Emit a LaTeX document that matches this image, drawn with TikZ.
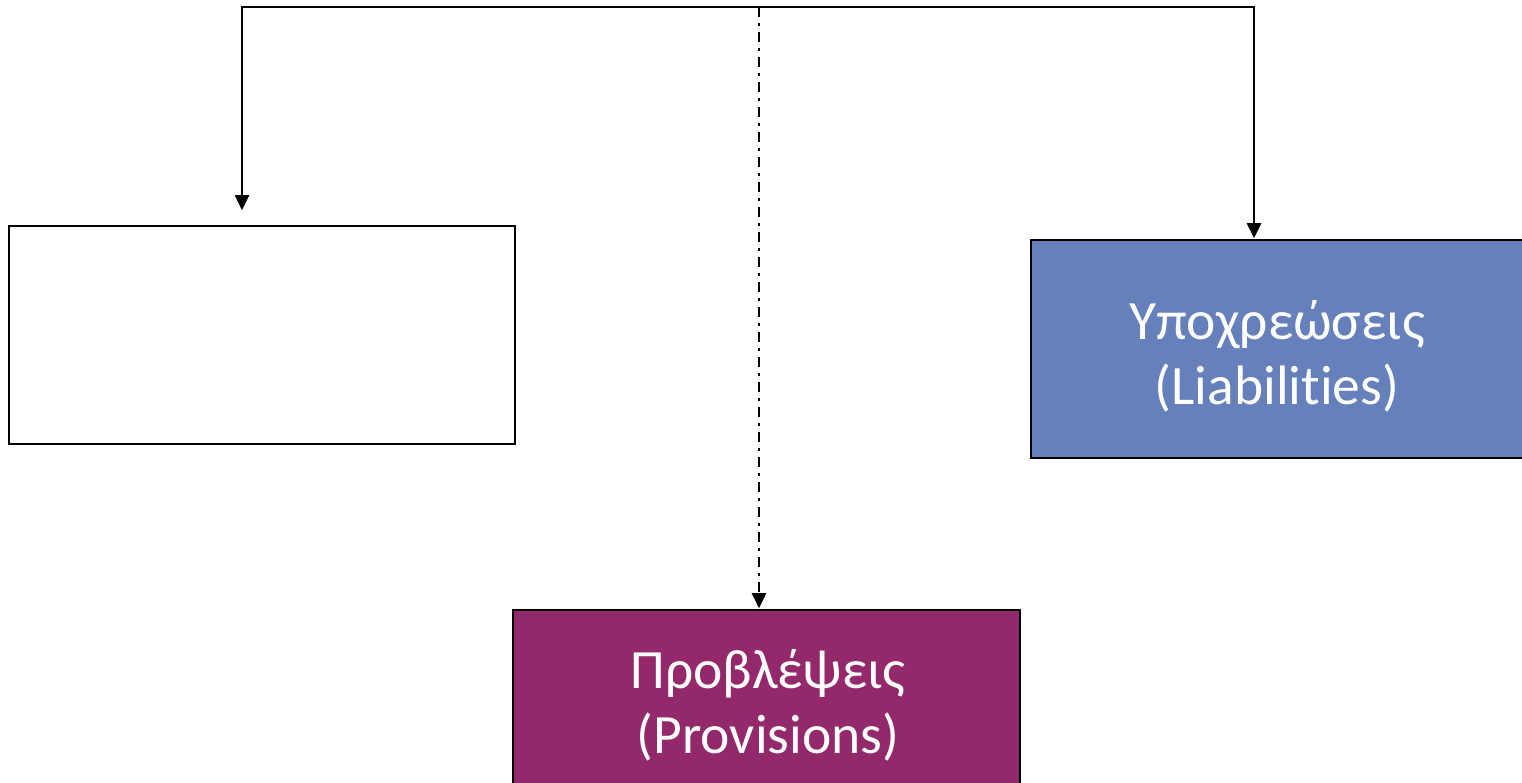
\documentclass[tikz,border=0pt]{standalone}
\usepackage{fontspec}
\setmainfont{Carlito}[Ligatures=NoCommon]
\usetikzlibrary{arrows.meta}
\definecolor{liabblue}{HTML}{6680BB}
\definecolor{provpurple}{HTML}{93296A}
\begin{document}
\begin{tikzpicture}[x=1pt,y=-1pt,
  box/.style={draw=black,line width=1.6pt,inner sep=0pt,minimum height=218pt},
  conn/.style={line width=2.6pt,line join=miter,-{Triangle[length=15pt,width=14pt]}},
  lbl/.style={text=white,font=\fontsize{55.5}{65}\selectfont,align=center,inner sep=0pt}]
\useasboundingbox (0,0) rectangle (1522,783);
\clip (0,0) rectangle (1522,783);
\node[box,fill=white,minimum width=506pt] (lbox) at (262,335) {};
\node[box,fill=liabblue,minimum width=493pt] (rbox) at (1277.5,349) {};
\node[box,fill=provpurple,minimum width=507pt] (pbox) at (766.5,719) {};
\node[lbl] (rtext) at (1277,356) {Υποχρεώσεις\\(Liabilities)};
\node[lbl] (ptext) at (768,705) {Προβλέψεις\\(Provisions)};
\coordinate (tl) at (242,7);
\coordinate (tr) at (1254,7);
\coordinate (tm) at (759,7);
\draw[conn,shorten >=15pt] (tm) -| (tl |- lbox.north);
\draw[conn,shorten >=1pt] (tm) -| (tr |- rbox.north);
\draw[conn,dash pattern=on 10pt off 6pt on 3pt off 6pt,shorten >=1pt] (tm) -- (tm |- pbox.north);
\end{tikzpicture}
\end{document}
